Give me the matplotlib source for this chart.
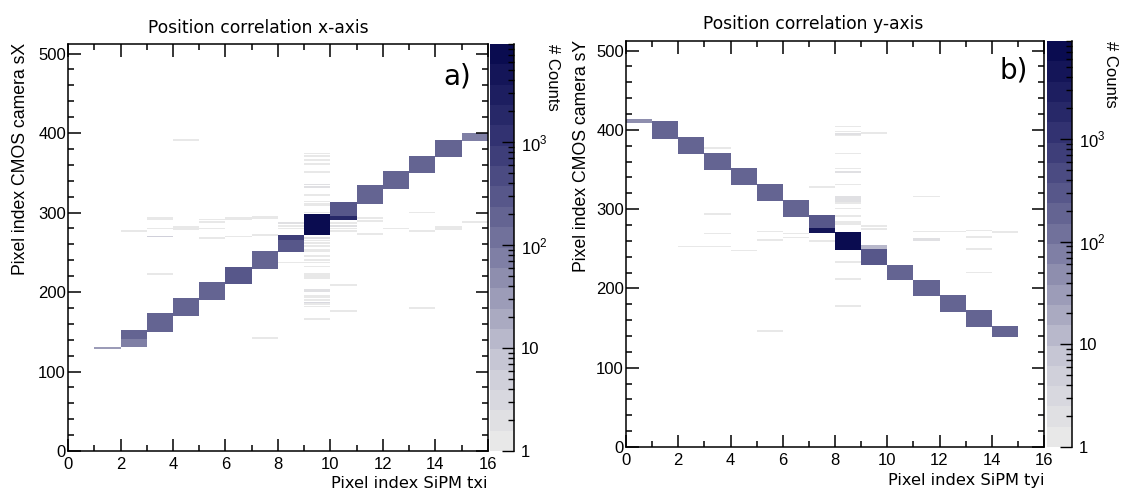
import numpy as np
import matplotlib
matplotlib.use('Agg')
import matplotlib.pyplot as plt
from matplotlib.colors import LinearSegmentedColormap, LogNorm
from matplotlib.ticker import MultipleLocator, FixedLocator, FixedFormatter, LogLocator, NullFormatter

plt.rcParams['mathtext.fontset'] = 'custom'
plt.rcParams['mathtext.rm'] = 'Liberation Sans'

# ---- panel a) x-axis correlation: one block per SiPM column ----
a_cols = [1, 2, 3, 4, 5, 6, 7, 8, 9, 10, 11, 12, 13, 14, 15]
a_lo = [128, 131, 150, 170, 190, 210, 229, 250, 272, 291, 311, 330, 350, 370, 390]
a_hi = [131, 152, 173, 192, 212, 232, 252, 272, 298, 313, 334, 352, 371, 391, 400]
a_cnt = [30, 200, 220, 220, 230, 240, 220, 300, 9000, 300, 220, 220, 220, 200, 70]
# parts of blocks with other counts
a_sub_cols = [2, 8, 10]
a_sub_lo = [131, 265, 291]
a_sub_hi = [141, 272, 295]
a_sub_cnt = [90, 900, 1500]
# single stray rows
a_s_cols = [2, 3, 3, 3, 3, 3, 4, 4, 4, 5, 5, 5, 5, 6, 6, 6, 7, 7, 7, 7, 8, 8, 8, 8,
            9, 9, 9, 9, 9, 9, 9, 9, 9, 9, 9, 9, 9, 9, 9, 9, 9, 9, 9, 9, 9, 9, 9, 9, 9, 9, 9, 9, 9, 9, 9, 9, 9, 9,
            10, 10, 10, 10, 10, 10, 11, 11, 11, 12, 13, 13, 13, 14, 14, 15]
a_s_y = [276, 292, 290, 279, 269, 222, 390, 281, 278, 290, 287, 279, 267, 292, 290, 269, 294, 292, 271, 141,
         286, 282, 279, 236,
         373, 370, 365, 360, 350, 334, 331, 321, 313, 310, 308, 299, 267, 264, 261, 257, 252, 250, 244, 239,
         236, 231, 222, 219, 217, 202, 200, 194, 192, 189, 186, 184, 181, 165,
         286, 282, 279, 276, 208, 175, 292, 288, 272, 279, 299, 276, 179, 281, 278, 287]
a_s_cnt = [1, 1, 1, 1, 4, 1, 1, 1, 1, 1, 1, 1, 1, 1, 1, 1, 1, 1, 1, 1, 2, 1, 1, 1,
           1, 1, 1, 1, 1, 2, 2, 1, 1, 1, 1, 1, 2, 1, 1, 1, 1, 1, 1, 1, 1, 1, 1, 1, 1, 2, 2, 1, 1, 1, 3, 1, 1, 1,
           1, 2, 1, 1, 1, 1, 1, 1, 1, 1, 1, 1, 1, 1, 1, 1]

# ---- panel b) y-axis correlation ----
b_cols = [0, 1, 2, 3, 4, 5, 6, 7, 8, 9, 10, 11, 12, 13, 14]
b_lo = [408, 389, 369, 349, 330, 310, 290, 270, 249, 229, 210, 190, 170, 151, 139]
b_hi = [414, 411, 391, 371, 352, 332, 312, 292, 271, 255, 230, 211, 192, 173, 152]
b_cnt = [60, 220, 220, 220, 220, 220, 220, 280, 9000, 250, 220, 220, 220, 200, 180]
b_sub_cols = [7, 9]
b_sub_lo = [270, 250]
b_sub_hi = [276, 255]
b_sub_cnt = [4000, 15]
b_s_cols = [2, 3, 3, 3, 3, 4, 5, 5, 5, 6, 6, 7, 7,
            8, 8, 8, 8, 8, 8, 8, 8, 8, 8, 8, 8, 8, 8, 8, 8, 8, 8, 8, 8,
            9, 9, 9, 11, 11, 11, 11, 12, 13, 13, 13, 13, 14]
b_s_y = [252, 376, 293, 268, 252, 247, 271, 260, 145, 268, 263, 327, 259,
         403, 397, 394, 392, 369, 350, 346, 330, 315, 313, 311, 309, 307, 300, 290, 283, 280, 232, 211, 177,
         395, 278, 274, 315, 271, 262, 260, 271, 272, 264, 249, 219, 270]
b_s_cnt = [1, 1, 1, 1, 1, 1, 1, 1, 1, 1, 1, 1, 1,
           1, 1, 2, 1, 1, 1, 2, 1, 2, 2, 2, 2, 1, 1, 1, 1, 1, 1, 1, 1,
           1, 1, 1, 1, 1, 2, 2, 1, 1, 1, 1, 1, 1]

n_x, n_y = 16, 512
z_min, z_max = 1, 9000

cmap = LinearSegmentedColormap.from_list(
    'root_blue', [(0, '#e8e8e8'), (0.2, '#c9c9d6'), (0.55, '#6b6b97'), (0.8, '#2f2f6f'), (1, '#0a0c50')], N=20)
norm = LogNorm(z_min, z_max)


def build_hist(cols, lo, hi, cnt, sub_cols, sub_lo, sub_hi, sub_cnt, s_cols, s_y, s_cnt):
    h = np.zeros((n_y, n_x))
    for c, l, u, n in zip(cols, lo, hi, cnt):
        h[l:u, c] = n
    for c, l, u, n in zip(sub_cols, sub_lo, sub_hi, sub_cnt):
        h[l:u, c] = n
    for c, y, n in zip(s_cols, s_y, s_cnt):
        h[y:y + 2, c] = n
    return np.ma.masked_equal(h, 0)


def draw_panel(ax, cax, h, title_xy, title, xlabel, ylabel, tag_xy, tag, ylab_x, cb_lab_x):
    mesh = ax.pcolormesh(np.arange(n_x + 1), np.arange(n_y + 1), h, cmap=cmap, norm=norm,
                         shading='flat', antialiased=False)
    ax.set_xlim(0, 16)
    ax.set_ylim(0, 512)
    ax.xaxis.set_major_locator(MultipleLocator(2))
    ax.xaxis.set_minor_locator(MultipleLocator(1))
    ax.yaxis.set_major_locator(MultipleLocator(100))
    ax.yaxis.set_minor_locator(MultipleLocator(20))
    ax.tick_params(which='both', direction='in', top=True, right=True, width=1.1,
                   labelsize=12, labelfontfamily='Liberation Sans')
    ax.tick_params(which='major', length=9)
    ax.tick_params(which='minor', length=4.5)
    ax.tick_params(axis='x', pad=4)
    ax.tick_params(axis='y', pad=1.5)
    for s in ax.spines.values():
        s.set_linewidth(1.1)

    fig.text(title_xy[0] / W, 1 - title_xy[1] / H, title, ha='center', va='baseline',
             fontsize=12.3, family='DejaVu Sans')
    pos = ax.get_position()
    fig.text(pos.x1, 1 - xlabel[1] / H, xlabel[0], ha='right', va='baseline',
             fontsize=11.7, family='DejaVu Sans')
    fig.text(ylab_x / W, pos.y1 + 1 / H, ylabel, rotation=90, ha='center', va='top',
             fontsize=12.7, family='Liberation Sans')
    fig.text(tag_xy[0] / W, 1 - tag_xy[1] / H, tag, ha='left', va='baseline',
             fontsize=20, family='DejaVu Sans')

    cb = fig.colorbar(mesh, cax=cax)
    cb.outline.set_visible(False)
    cax.axvline(1, color='black', lw=1.1, clip_on=False)
    cax.yaxis.set_major_locator(FixedLocator([1, 10, 100, 1000]))
    cax.yaxis.set_major_formatter(FixedFormatter(['1', '10', '$10^{2}$', '$10^{3}$']))
    cax.yaxis.set_minor_locator(LogLocator(base=10, subs=np.arange(2, 10)))
    cax.yaxis.set_minor_formatter(NullFormatter())
    cax.tick_params(which='both', direction='in', width=1.0, labelsize=12,
                    labelfontfamily='Liberation Sans', pad=5)
    cax.tick_params(which='major', length=9)
    cax.tick_params(which='minor', length=4.5)
    cpos = cax.get_position()
    fig.text(cb_lab_x / W, cpos.y1, '# Counts', rotation=270, ha='center', va='top',
             fontsize=12, family='Liberation Sans')


W, H = 1128, 496
fig = plt.figure(figsize=(W / 100, H / 100), dpi=100)
ax_a = fig.add_axes([68 / W, (H - 451) / H, 420 / W, 407 / H])
cax_a = fig.add_axes([490 / W, (H - 451) / H, 24 / W, 407 / H])
ax_b = fig.add_axes([626 / W, (H - 447) / H, 418 / W, 406 / H])
cax_b = fig.add_axes([1047 / W, (H - 447) / H, 25 / W, 406 / H])

hist_a = build_hist(a_cols, a_lo, a_hi, a_cnt, a_sub_cols, a_sub_lo, a_sub_hi, a_sub_cnt,
                    a_s_cols, a_s_y, a_s_cnt)
hist_b = build_hist(b_cols, b_lo, b_hi, b_cnt, b_sub_cols, b_sub_lo, b_sub_hi, b_sub_cnt,
                    b_s_cols, b_s_y, b_s_cnt)

draw_panel(ax_a, cax_a, hist_a, (258, 33), 'Position correlation x-axis',
           ('Pixel index SiPM txi', 488), 'Pixel index CMOS camera sX', (443, 85), 'a)', 21, 553)
draw_panel(ax_b, cax_b, hist_b, (813, 29), 'Position correlation y-axis',
           ('Pixel index SiPM tyi', 485), 'Pixel index CMOS camera sY', (1000, 78), 'b)', 582, 1111)

fig.savefig('out.png', dpi=100)
